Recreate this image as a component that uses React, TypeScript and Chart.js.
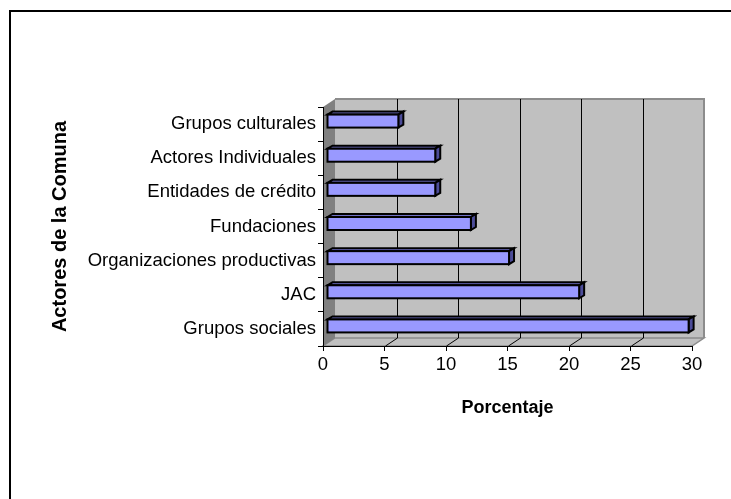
import React, { useEffect, useRef } from "react";
import { Chart, registerables } from "chart.js";

Chart.register(...registerables);

const categories = [
  "Grupos culturales",
  "Actores Individuales",
  "Entidades de crédito",
  "Fundaciones",
  "Organizaciones productivas",
  "JAC",
  "Grupos sociales",
];
const porcentajes = [5.8, 8.8, 8.8, 11.7, 14.8, 20.5, 29.4];
const xTicks = [0, 5, 10, 15, 20, 25, 30];
const xTitle = "Porcentaje";
const yTitle = "Actores de la Comuna";

const FONT = "'Liberation Sans', Arial, sans-serif";
const DEPTH_X = 12;
const DEPTH_Y = -8;
const BAR_OX = 4;
const BAR_OY = -3;
const BAR_DX = 5;
const BAR_DY = -3;

const box3d = {
  id: "box3d",
  beforeDraw(chart: any) {
    const { ctx, chartArea } = chart;
    const { left: L, right: R, top: T, bottom: B } = chartArea;
    const xs = chart.scales.x;
    ctx.save();
    ctx.fillStyle = "#ffffff";
    ctx.fillRect(0, 0, chart.width, chart.height);
    // outer frame
    ctx.strokeStyle = "#000";
    ctx.lineWidth = 2;
    ctx.beginPath();
    ctx.moveTo(10, chart.height);
    ctx.lineTo(10, 11);
    ctx.lineTo(chart.width, 11);
    ctx.stroke();
    // back wall
    ctx.fillStyle = "#c0c0c0";
    ctx.fillRect(L + DEPTH_X, T + DEPTH_Y, R - L, B - T);
    // floor
    ctx.beginPath();
    ctx.moveTo(L, B);
    ctx.lineTo(R, B);
    ctx.lineTo(R + DEPTH_X, B + DEPTH_Y);
    ctx.lineTo(L + DEPTH_X, B + DEPTH_Y);
    ctx.closePath();
    ctx.fill();
    ctx.strokeStyle = "#8c8c8c";
    ctx.lineWidth = 1.5;
    ctx.stroke();
    // left wall
    ctx.fillStyle = "#808080";
    ctx.beginPath();
    ctx.moveTo(L, T);
    ctx.lineTo(L + DEPTH_X, T + DEPTH_Y);
    ctx.lineTo(L + DEPTH_X, B + DEPTH_Y);
    ctx.lineTo(L, B);
    ctx.closePath();
    ctx.fill();
    // back wall outline
    ctx.strokeStyle = "#8c8c8c";
    ctx.lineWidth = 2;
    ctx.beginPath();
    ctx.moveTo(L + DEPTH_X, T + DEPTH_Y);
    ctx.lineTo(R + DEPTH_X, T + DEPTH_Y);
    ctx.lineTo(R + DEPTH_X, B + DEPTH_Y);
    ctx.stroke();
    // gridlines
    ctx.strokeStyle = "#000";
    ctx.lineWidth = 1;
    xTicks.forEach((v) => {
      if (v === xTicks[0] || v === xTicks[xTicks.length - 1]) return;
      const px = Math.round(xs.getPixelForValue(v)) + 0.5;
      ctx.beginPath();
      ctx.moveTo(px + DEPTH_X, T + DEPTH_Y);
      ctx.lineTo(px + DEPTH_X, B + DEPTH_Y);
      ctx.stroke();
      ctx.beginPath();
      ctx.moveTo(px, B);
      ctx.lineTo(px + DEPTH_X, B + DEPTH_Y);
      ctx.stroke();
    });
    ctx.restore();
  },
  afterDatasetsDraw(chart: any) {
    const { ctx } = chart;
    const meta = chart.getDatasetMeta(0);
    ctx.save();
    ctx.lineWidth = 2;
    ctx.strokeStyle = "#000";
    ctx.lineJoin = "miter";
    meta.data.forEach((el: any) => {
      const { x, y, base, height } = el.getProps(["x", "y", "base", "height"], true);
      const x0 = base + BAR_OX;
      const x1 = x + BAR_OX;
      const t = y - height / 2 + BAR_OY;
      const b = y + height / 2 + BAR_OY;
      // top face
      ctx.fillStyle = "#6e6ec4";
      ctx.beginPath();
      ctx.moveTo(x0, t);
      ctx.lineTo(x0 + BAR_DX, t + BAR_DY);
      ctx.lineTo(x1 + BAR_DX, t + BAR_DY);
      ctx.lineTo(x1, t);
      ctx.closePath();
      ctx.fill();
      ctx.stroke();
      // side face
      ctx.fillStyle = "#4c4c99";
      ctx.beginPath();
      ctx.moveTo(x1, t);
      ctx.lineTo(x1 + BAR_DX, t + BAR_DY);
      ctx.lineTo(x1 + BAR_DX, b + BAR_DY);
      ctx.lineTo(x1, b);
      ctx.closePath();
      ctx.fill();
      ctx.stroke();
      // front face
      ctx.fillStyle = "#9999ff";
      ctx.fillRect(x0, t, x1 - x0, b - t);
      ctx.strokeRect(x0, t, x1 - x0, b - t);
    });
    ctx.restore();
  },
};

export default function App() {
  const ref = useRef<HTMLCanvasElement | null>(null);
  useEffect(() => {
    if (!ref.current) return;
    Chart.defaults.font.family = FONT;
    const chart = new Chart(ref.current, {
      type: "bar",
      data: {
        labels: categories,
        datasets: [
          {
            data: porcentajes,
            backgroundColor: "rgba(0,0,0,0)",
            borderWidth: 0,
            barThickness: 13,
          },
        ],
      },
      options: {
        indexAxis: "y",
        responsive: false,
        animation: false,
        layout: { padding: { left: 44, right: 39, top: 107, bottom: 76 } },
        plugins: { legend: { display: false }, tooltip: { enabled: false } },
        scales: {
          x: {
            min: 0,
            max: 30,
            afterBuildTicks: (s: any) => {
              s.ticks = xTicks.map((v) => ({ value: v }));
            },
            afterFit: (s: any) => {
              s.height = 77;
            },
            ticks: { color: "#000", font: { size: 18.5 }, padding: 3, maxRotation: 0 },
            grid: { drawOnChartArea: false, color: "#000", tickLength: 5 },
            border: { color: "#000", width: 1 },
            title: {
              display: true,
              text: xTitle,
              color: "#000",
              font: { size: 18, weight: "bold" },
              padding: { top: 4, bottom: 4 },
            },
          },
          y: {
            afterFit: (s: any) => {
              s.width = 323 - 44;
            },
            ticks: { color: "#000", font: { size: 18.5 }, padding: 2 },
            grid: { drawOnChartArea: false, color: "#000", tickLength: 5, offset: true },
            border: { color: "#000", width: 1 },
            title: {
              display: true,
              text: yTitle,
              color: "#000",
              font: { size: 20, weight: "bold" },
              padding: 4,
            },
          },
        },
      },
      plugins: [box3d],
    });
    return () => chart.destroy();
  }, []);
  return (
    <div style={{ position: "absolute", left: 0, top: 0, width: 731, height: 499 }}>
      <canvas ref={ref} width={731} height={499} style={{ display: "block" }} />
    </div>
  );
}
